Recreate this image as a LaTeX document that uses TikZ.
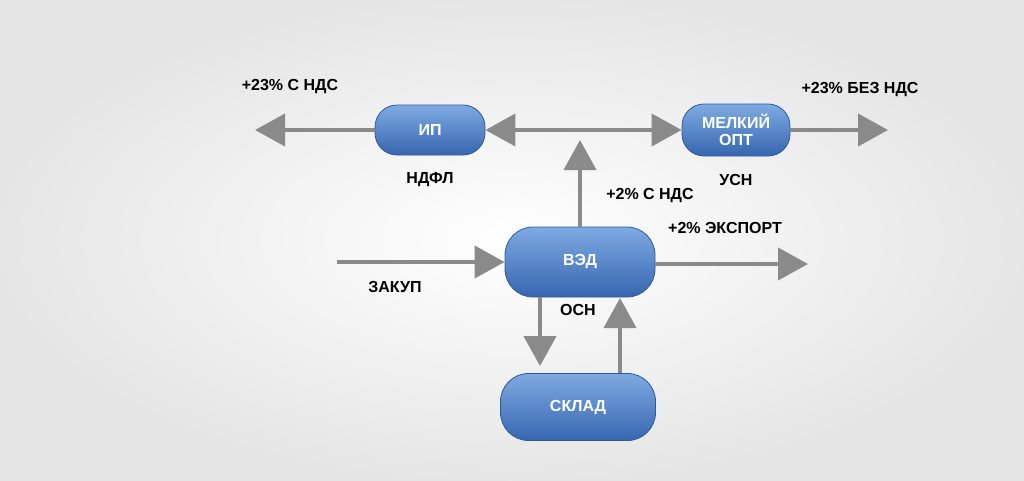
\documentclass[tikz,border=0pt]{standalone}
\usepackage{fontspec}
\setmainfont{Liberation Sans}
\usetikzlibrary{arrows.meta,shadings}
\definecolor{arr}{HTML}{8A8A8A}
\definecolor{btop}{HTML}{7FAAE2}
\definecolor{bbot}{HTML}{3766B0}
\definecolor{bdr}{HTML}{2E5A9C}
\tikzset{
 box/.style={rounded corners=22pt,top color=btop,bottom color=bbot,draw=bdr,line width=0.8pt,
   text=white,font=\bfseries\fontsize{16}{17}\selectfont,align=center,inner sep=0pt},
 lab/.style={font=\bfseries\fontsize{16}{17}\selectfont,text=black},
 ar/.style={draw=arr,line width=4pt,-{Triangle[length=30pt,width=32pt]}},
 ard/.style={draw=arr,line width=4pt,{Triangle[length=30pt,width=32pt]}-{Triangle[length=30pt,width=32pt]}}
}
\begin{document}
\begin{tikzpicture}[x=1pt,y=-1pt]
\useasboundingbox (0,0) rectangle (1024,480);
\shade[inner color=white,outer color=black!10] (0,0) rectangle (1024,480);
\node[box,minimum width=110pt,minimum height=50pt] (ip) at (430,130) {ИП};
\node[box,minimum width=108pt,minimum height=52pt] (opt) at (736,130) {МЕЛКИЙ\\ОПТ};
\node[box,minimum width=150pt,minimum height=70pt,rounded corners=28pt] (ved) at (580,262) {ВЭД};
\node[box,minimum width=155pt,minimum height=67pt,rounded corners=28pt] (sklad) at (578,407) {СКЛАД};
\coordinate (l1) at (255,130);
\coordinate (r1) at (888,130);
\coordinate (up) at (580,140);
\coordinate (zin) at (337,262);
\coordinate (eout) at (808,264);
\draw[ar] (ip.west) -- (l1);
\draw[ard] (ip.east) -- (opt.west);
\draw[ar] (opt.east) -- (r1);
\draw[ar] (ved.north) -- (up);
\draw[ar] (zin) -- (ved.west);
\draw[ar] (ved.east |- eout) -- (eout);
\draw[ar] (ved.south -| 540,0) -- (540,366);
\draw[ar] (sklad.north -| 620,0) -- (620,298);
\node[lab] (t1) at (290,87) {+23\% С НДС};
\node[lab] (t2) at (430,180) {НДФЛ};
\node[lab] (t3) at (736,180) {УСН};
\node[lab] (t4) at (860,90) {+23\% БЕЗ НДС};
\node[lab] (t5) at (650,196) {+2\% С НДС};
\node[lab] (t6) at (725,228) {+2\% ЭКСПОРТ};
\node[lab] (t7) at (395,287) {ЗАКУП};
\node[lab] (t8) at (578,310) {ОСН};
\end{tikzpicture}
\end{document}
